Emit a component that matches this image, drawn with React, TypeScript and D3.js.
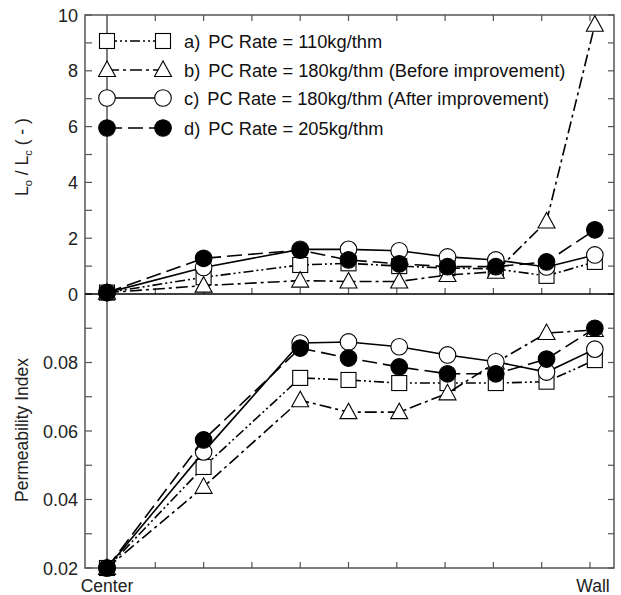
import React from "react";
import * as d3 from "d3";

const positions = [0, 2, 4, 5, 6.05, 7.05, 8.05, 9.1, 10.1];
const seriesTags = ["a)", "b)", "c)", "d)"];
const seriesNames = [
  "PC Rate = 110kg/thm",
  "PC Rate = 180kg/thm (Before improvement)",
  "PC Rate = 180kg/thm (After improvement)",
  "PC Rate = 205kg/thm",
];
const markerTypes = ["square", "triangle", "openCircle", "filledCircle"];
const dashes = ["10,3,2,3,2,3", "12,4,3,4", "", "15,6"];

const ratioA = [0.05, 0.6, 1.04, 1.1, 1.0, 0.93, 0.9, 0.65, 1.15];
const ratioB = [0.05, 0.3, 0.48, 0.45, 0.45, 0.68, 0.8, 2.6, 9.65];
const ratioC = [0.05, 0.95, 1.6, 1.6, 1.55, 1.33, 1.22, 0.97, 1.4];
const ratioD = [0.05, 1.28, 1.57, 1.22, 1.08, 0.98, 0.98, 1.15, 2.3];

const permA = [0.02, 0.0495, 0.0755, 0.0749, 0.074, 0.074, 0.074, 0.0744, 0.0807];
const permB = [0.02, 0.0437, 0.069, 0.0655, 0.0655, 0.071, 0.08, 0.0886, 0.0895];
const permC = [0.02, 0.0539, 0.0857, 0.086, 0.0846, 0.0822, 0.0802, 0.0772, 0.0839];
const permD = [0.02, 0.0574, 0.0842, 0.0813, 0.0787, 0.0767, 0.0767, 0.081, 0.09];

const topTicks = [0, 2, 4, 6, 8, 10];
const bottomTicks = [0.02, 0.04, 0.06, 0.08];
const xTicks = [1, 2, 3, 4, 5, 6, 7, 8, 9, 10];

const L = 85, R = 614, T = 15, MID = 294, B = 568;
const FONT = "Liberation Sans, Arial, sans-serif";
const AX = "#555";

function Marker({ type, x, y }: { type: string; x: number; y: number }) {
  if (type === "square") return <rect x={x - 7.5} y={y - 7.5} width={15} height={15} fill="white" stroke="black" strokeWidth={1.1} />;
  if (type === "triangle") {
    const p = `${x},${y - 9} ${x - 8.5},${y + 6.5} ${x + 8.5},${y + 6.5}`;
    return <polygon points={p} fill="white" stroke="black" strokeWidth={1.1} />;
  }
  if (type === "openCircle") return <circle cx={x} cy={y} r={8.3} fill="white" stroke="black" strokeWidth={1.1} />;
  return <circle cx={x} cy={y} r={8.3} fill="black" stroke="black" strokeWidth={1.1} />;
}

export default function App() {
  const x = d3.scaleLinear().domain([0, 10]).range([107, 590]);
  const yTop = d3.scaleLinear().domain([0, 10]).range([MID, T]);
  const yBot = d3.scaleLinear().domain([0.02, 0.1]).range([B, MID]);
  const topData = [ratioA, ratioB, ratioC, ratioD];
  const botData = [permA, permB, permC, permD];

  const lineGen = (ys: d3.ScaleLinear<number, number>) =>
    d3.line<number>().x((_, i) => x(positions[i])).y((v) => ys(v));

  const topMinor = d3.range(0, 10.01, 1);
  const botMinor = d3.range(0.02, 0.1001, 0.01);

  const legendY = [41, 70, 98, 128];

  const panel = (data: number[][], ys: d3.ScaleLinear<number, number>) => {
    const lg = lineGen(ys);
    return data.map((s, k) => (
      <g key={k}>
        <path d={lg(s) || ""} fill="none" stroke="black" strokeWidth={1.6} strokeDasharray={dashes[k]} />
        {s.map((v, i) => (
          <Marker key={i} type={markerTypes[k]} x={x(positions[i])} y={ys(v)} />
        ))}
      </g>
    ));
  };

  return (
    <svg width={621} height={595} style={{ position: "absolute", left: 0, top: 0 }} fontFamily={FONT}>
      <rect width={621} height={595} fill="white" />
      {topMinor.map((v, i) => (
        <g key={"tm" + i}>
          <line x1={L} x2={L + 7} y1={yTop(v)} y2={yTop(v)} stroke={AX} strokeWidth={1.2} />
          <line x1={R} x2={R - 6} y1={yTop(v)} y2={yTop(v)} stroke={AX} strokeWidth={1.2} />
        </g>
      ))}
      {botMinor.map((v, i) => (
        <g key={"bm" + i}>
          <line x1={L} x2={L + 7} y1={yBot(v)} y2={yBot(v)} stroke={AX} strokeWidth={1.2} />
          <line x1={R} x2={R - 6} y1={yBot(v)} y2={yBot(v)} stroke={AX} strokeWidth={1.2} />
        </g>
      ))}
      {xTicks.map((v, i) => (
        <g key={"xt" + i}>
          <line x1={x(v)} x2={x(v)} y1={T} y2={T + 6} stroke={AX} strokeWidth={1.2} />
          <line x1={x(v)} x2={x(v)} y1={MID} y2={MID - 6} stroke={AX} strokeWidth={1.2} />
          <line x1={x(v)} x2={x(v)} y1={B} y2={B - 6} stroke={AX} strokeWidth={1.2} />
        </g>
      ))}
      {topTicks.map((v, i) => (
        <text key={"tl" + i} x={L - 7} y={yTop(v) + 6.5} textAnchor="end" fontSize={18} fill="#222">{v}</text>
      ))}
      {bottomTicks.map((v, i) => (
        <text key={"bl" + i} x={L - 7} y={yBot(v) + 6.5} textAnchor="end" fontSize={18} fill="#222">{v.toFixed(2)}</text>
      ))}
      <rect x={L} y={T} width={R - L} height={B - T} fill="none" stroke={AX} strokeWidth={1.5} />
      <line x1={L} x2={R} y1={MID} y2={MID} stroke="black" strokeWidth={1.5} />
      <line x1={x(0)} x2={x(0)} y1={T} y2={B} stroke={AX} strokeWidth={1.5} />

      {panel(topData, yTop)}
      {panel(botData, yBot)}

      {seriesNames.map((name, k) => (
        <g key={"lg" + k}>
          <line x1={107} x2={163} y1={legendY[k]} y2={legendY[k]} stroke="black" strokeWidth={1.6} strokeDasharray={dashes[k]} />
          <Marker type={markerTypes[k]} x={107} y={legendY[k]} />
          <Marker type={markerTypes[k]} x={163} y={legendY[k]} />
          <text x={184} y={legendY[k] + 6.5} fontSize={18.3} fill="#111">
            {seriesTags[k]}<tspan dx={8}>{name}</tspan>
          </text>
        </g>
      ))}

      <text transform="translate(28,157) rotate(-90)" textAnchor="middle" fontSize={17.5} fill="#222">
        L<tspan fontSize={11} dy={4}>o</tspan><tspan dy={-4}> / L</tspan><tspan fontSize={11} dy={4}>c</tspan><tspan dy={-4}> ( - )</tspan>
      </text>
      <text transform="translate(28,430) rotate(-90)" textAnchor="middle" fontSize={17.5} fill="#222">Permeability Index</text>
      <text x={107} y={592} textAnchor="middle" fontSize={17.5} fill="#222">Center</text>
      <text x={593} y={592} textAnchor="middle" fontSize={17.5} fill="#222">Wall</text>
    </svg>
  );
}
